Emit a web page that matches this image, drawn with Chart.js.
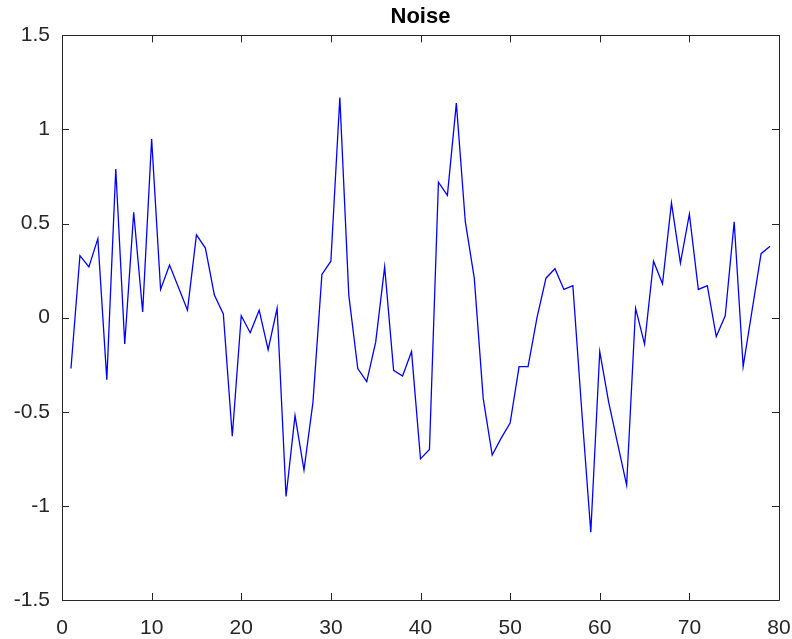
<!DOCTYPE html>
<html>
<head>
<meta charset="utf-8">
<title>Noise</title>
<script src="https://cdn.jsdelivr.net/npm/chart.js@4/dist/chart.umd.min.js"></script>
<style>
  html, body { margin: 0; padding: 0; background: #ffffff; }
  canvas { display: block; }
</style>
</head>
<body>
<canvas id="noise" width="792" height="639"></canvas>
<script>
// Sample index (x) and noise amplitude (y)
const sampleIndex = [
  1, 2, 3, 4, 5, 6, 7, 8, 9, 10,
  11, 12, 13, 14, 15, 16, 17, 18, 19, 20,
  21, 22, 23, 24, 25, 26, 27, 28, 29, 30,
  31, 32, 33, 34, 35, 36, 37, 38, 39, 40,
  41, 42, 43, 44, 45, 46, 47, 48, 49, 50,
  51, 52, 53, 54, 55, 56, 57, 58, 59, 60,
  61, 62, 63, 64, 65, 66, 67, 68, 69, 70,
  71, 72, 73, 74, 75, 76, 77, 78, 79
];
const noiseValues = [
  -0.27, 0.33, 0.27, 0.42, -0.33, 0.79, -0.14, 0.56, 0.03, 0.95,
  0.15, 0.28, 0.16, 0.04, 0.44, 0.37, 0.12, 0.02, -0.63, 0.01,
  -0.08, 0.04, -0.17, 0.05, -0.95, -0.52, -0.81, -0.45, 0.23, 0.30,
  1.17, 0.12, -0.27, -0.34, -0.13, 0.27, -0.28, -0.31, -0.18, -0.75,
  -0.70, 0.72, 0.65, 1.14, 0.51, 0.21, -0.43, -0.73, -0.64, -0.56,
  -0.26, -0.26, 0.00, 0.21, 0.26, 0.15, 0.17, -0.50, -1.14, -0.18,
  -0.45, -0.67, -0.89, 0.05, -0.14, 0.30, 0.18, 0.61, 0.29, 0.55,
  0.15, 0.17, -0.10, 0.01, 0.51, -0.26, 0.04, 0.34, 0.38
];
const xTickStep = 10;
const yTickStep = 0.5;

const axisColor = '#262626';
const tickFont = { family: '"Liberation Sans", Arial, sans-serif', size: 21 };

// Draws the closed axes box and the inward-pointing tick marks on all four sides
const boxAxes = {
  id: 'boxAxes',
  afterDraw(chart) {
    const { ctx, chartArea: a, scales } = chart;
    const len = 7;
    ctx.save();
    ctx.strokeStyle = axisColor;
    ctx.lineWidth = 1;
    ctx.beginPath();
    ctx.rect(Math.round(a.left) + 0.5, Math.round(a.top) + 0.5,
             Math.round(a.right - a.left), Math.round(a.bottom - a.top));
    scales.x.ticks.forEach(t => {
      const px = Math.round(scales.x.getPixelForValue(t.value)) + 0.5;
      ctx.moveTo(px, a.bottom); ctx.lineTo(px, a.bottom - len);
      ctx.moveTo(px, a.top); ctx.lineTo(px, a.top + len);
    });
    scales.y.ticks.forEach(t => {
      const py = Math.round(scales.y.getPixelForValue(t.value)) + 0.5;
      ctx.moveTo(a.left, py); ctx.lineTo(a.left + len, py);
      ctx.moveTo(a.right, py); ctx.lineTo(a.right - len, py);
    });
    ctx.stroke();
    ctx.restore();
  }
};

new Chart(document.getElementById('noise'), {
  type: 'line',
  data: {
    datasets: [{
      data: sampleIndex.map((x, i) => ({ x, y: noiseValues[i] })),
      borderColor: '#0000ff',
      borderWidth: 1.3,
      pointRadius: 0,
      tension: 0,
      fill: false
    }]
  },
  options: {
    responsive: false,
    animation: false,
    layout: { padding: { left: 0, right: 0, top: 0, bottom: 0 } },
    plugins: {
      legend: { display: false },
      tooltip: { enabled: false },
      title: {
        display: true,
        text: 'Noise',
        fullSize: false,
        color: '#000000',
        font: { family: '"Liberation Sans", Arial, sans-serif', size: 22, weight: 'bold' },
        padding: { top: 4, bottom: 5 }
      }
    },
    scales: {
      x: {
        type: 'linear',
        min: 0,
        max: 80,
        afterFit(scale) {
          scale.height = 39;
          scale.paddingLeft = 0;
          scale.paddingRight = 13;
        },
        ticks: { stepSize: xTickStep, color: axisColor, font: tickFont, padding: 16, maxRotation: 0 },
        grid: { display: true, drawOnChartArea: false, drawTicks: false, color: 'rgba(0,0,0,0)' },
        border: { display: false }
      },
      y: {
        type: 'linear',
        min: -1.5,
        max: 1.5,
        afterFit(scale) {
          scale.width = 62;
          scale.paddingTop = 0;
          scale.paddingBottom = 0;
        },
        ticks: {
          stepSize: yTickStep, color: axisColor, font: tickFont, padding: 12,
          callback: v => String(v)
        },
        grid: { display: true, drawOnChartArea: false, drawTicks: false, color: 'rgba(0,0,0,0)' },
        border: { display: false }
      }
    }
  },
  plugins: [boxAxes]
});
</script>
</body>
</html>
